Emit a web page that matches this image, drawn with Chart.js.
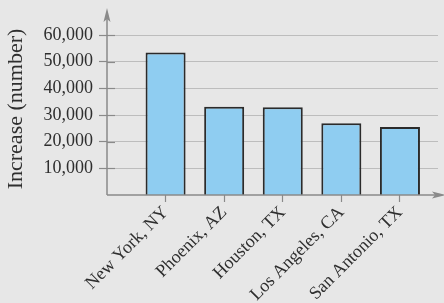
<!DOCTYPE html>
<html>
<head>
<meta charset="utf-8">
<script src="https://cdn.jsdelivr.net/npm/chart.js@4.4.1/dist/chart.umd.min.js"></script>
<style>
  html, body { margin: 0; padding: 0; background: #e7e7e7; }
  #wrap { width: 444px; height: 303px; position: relative; }
</style>
</head>
<body>
<div id="wrap"><canvas id="c" width="444" height="303"></canvas></div>
<script>
const categories = ['New York, NY', 'Phoenix, AZ', 'Houston, TX', 'Los Angeles, CA', 'San Antonio, TX'];
const increases = [53400, 33100, 32900, 26900, 25500];
const yTickValues = [10000, 20000, 30000, 40000, 50000, 60000];
const yTitle = 'Increase (number)';

const AXIS = '#8a8a8a';
const TEXT = '#2e2e2e';
const FONT = 'Liberation Serif';

const axisPlugin = {
  id: 'axisPlugin',
  afterDraw(chart) {
    const ctx = chart.ctx;
    const x = chart.scales.x, y = chart.scales.y;
    const x0 = x.left, y0 = y.bottom;
    ctx.save();
    // y-axis title
    ctx.save();
    ctx.translate(16, 109);
    ctx.rotate(-Math.PI / 2);
    ctx.fillStyle = TEXT;
    ctx.font = '22px "' + FONT + '"';
    ctx.textAlign = 'center';
    ctx.textBaseline = 'middle';
    ctx.fillText(yTitle, 0, 0);
    ctx.restore();

    ctx.strokeStyle = AXIS;
    ctx.fillStyle = AXIS;
    ctx.lineWidth = 1.2;
    yTickValues.forEach(v => {
      const py = Math.round(y.getPixelForValue(v)) + 0.5;
      ctx.beginPath(); ctx.moveTo(x0, py); ctx.lineTo(x0 + 8, py); ctx.stroke();
    });
    ctx.lineWidth = 1.5;
    const topY = 8;
    ctx.beginPath(); ctx.moveTo(x0, y0); ctx.lineTo(x0, topY + 8); ctx.stroke();
    ctx.beginPath();
    ctx.moveTo(x0, topY);
    ctx.lineTo(x0 + 3.5, topY + 14);
    ctx.lineTo(x0, topY + 11);
    ctx.lineTo(x0 - 3.5, topY + 14);
    ctx.closePath(); ctx.fill();
    const tipX = 446;
    ctx.beginPath(); ctx.moveTo(x0, y0); ctx.lineTo(tipX - 8, y0); ctx.stroke();
    ctx.beginPath();
    ctx.moveTo(tipX, y0);
    ctx.lineTo(tipX - 14, y0 - 3.5);
    ctx.lineTo(tipX - 11, y0);
    ctx.lineTo(tipX - 14, y0 + 3.5);
    ctx.closePath(); ctx.fill();
    ctx.restore();
  }
};

new Chart(document.getElementById('c'), {
  type: 'bar',
  data: {
    datasets: [{
      data: increases.map((v, i) => ({ x: i + 1, y: v })),
      backgroundColor: '#8fcdf1',
      borderColor: '#2b2b2b',
      borderWidth: 2,
      categoryPercentage: 1,
      barPercentage: 0.683
    }]
  },
  options: {
    responsive: false,
    animation: false,
    devicePixelRatio: 1,
    layout: { padding: { top: 35, right: 6, left: 0, bottom: 0 } },
    plugins: { legend: { display: false }, tooltip: { enabled: false } },
    scales: {
      x: {
        type: 'linear',
        offset: false,
        min: 0,
        max: 5.65,
        afterBuildTicks(scale) { scale.ticks = categories.map((_, i) => ({ value: i + 1 })); },
        afterFit(scale) { scale.height = 108; scale.paddingLeft = 0; scale.paddingRight = 0; },
        grid: { offset: false, drawOnChartArea: false, drawTicks: true, tickLength: 7, tickColor: AXIS, tickWidth: 1.2 },
        border: { display: false },
        ticks: {
          autoSkip: false,
          minRotation: 45,
          maxRotation: 45,
          padding: 0,
          color: TEXT,
          font: { family: FONT, size: 18 },
          callback: (v) => categories[Math.round(v) - 1]
        }
      },
      y: {
        min: 0,
        max: 60000,
        afterBuildTicks(scale) { scale.ticks = yTickValues.map(v => ({ value: v })); },
        afterFit(scale) { scale.width = 107; },
        grid: { color: '#bdbdbd', lineWidth: 1, drawTicks: true, tickLength: 8, tickColor: AXIS, tickWidth: 1.2 },
        border: { display: false },
        ticks: {
          padding: 6,
          color: TEXT,
          font: { family: FONT, size: 18 },
          callback: (v) => v.toLocaleString('en-US')
        },
        title: { display: false }
      }
    }
  },
  plugins: [axisPlugin]
});
</script>
</body>
</html>
